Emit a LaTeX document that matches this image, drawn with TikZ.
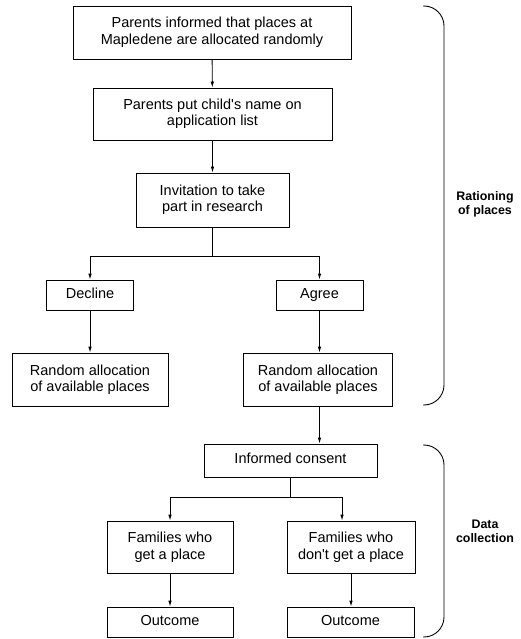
\documentclass[tikz,border=0pt]{standalone}
\usepackage{fontspec}
\setmainfont{Liberation Sans}
\usetikzlibrary{arrows.meta}

\begin{document}
\begin{tikzpicture}[x=1pt, y=-1pt, line width=0.9pt, >={Latex[length=6pt,width=3.6pt]},
		box/.style={draw, align=center, inner sep=0pt, font=\fontsize{14.5}{16.5}\selectfont},
		sidetext/.style={align=center, font=\bfseries\fontsize{12.4}{13.6}\selectfont}]
	% 画布
	\useasboundingbox (0,0) rectangle (521,639);
	
	% 配额部分
	\node[box, minimum width=278pt, minimum height=53pt] (inform) at (212,32.5) {Parents informed that places at\\Mapledene are allocated randomly};
	\node[box, minimum width=239pt, minimum height=52pt] (apply) at (212.5,114) {Parents put child\textquotesingle s name on\\application list};
	\node[box, minimum width=153pt, minimum height=54pt] (invite) at (212.5,200) {Invitation to take\\part in research};
	\node[box, minimum width=87pt, minimum height=30pt] (decline) at (90,295) {\strut Decline};
	\node[box, minimum width=87pt, minimum height=30pt] (agree) at (319.5,295) {\strut Agree};
	\node[box, minimum width=156pt, minimum height=53pt] (randA) at (90,379.5) {Random allocation\\of available places};
	\node[box, minimum width=149pt, minimum height=53pt] (randB) at (318,379.5) {Random allocation\\of available places};
	
	% 数据收集部分
	\node[box, minimum width=173pt, minimum height=33pt] (consent) at (290.5,460.5) {\strut Informed consent};
	\node[box, minimum width=126pt, minimum height=52pt] (famA) at (170,547) {Families who\\get a place};
	\node[box, minimum width=128pt, minimum height=52pt] (famB) at (351,547) {Families who\\don\textquotesingle t get a place};
	\node[box, minimum width=126pt, minimum height=30pt] (outA) at (170,622) {\strut Outcome};
	\node[box, minimum width=127pt, minimum height=30pt] (outB) at (350.5,622) {\strut Outcome};
	
	% 箭头
	\draw[->] (inform) -- (apply);
	\draw[->] (apply) -- (invite);
	\coordinate (split1) at (212.5,256);
	\draw (invite.south) -- (split1);
	\draw[->] (split1) -| (decline.north);
	\draw[->] (split1) -| (agree.north);
	\draw[->] (decline) -- (randA.north -| decline.south);
	\draw[->] (agree) -- (randB.north -| agree.south);
	\draw[->] (randB.south -| agree.south) -- (consent.north -| agree.south);
	\coordinate (split2) at (290.5,497);
	\draw (consent.south) -- (split2);
	\draw[->] (split2) -| (famA.north);
	\draw[->] (split2) -| ([xshift=-9pt]famB.north);
	\draw[->] (famA) -- (outA);
	\draw[->] (famB) -- (outB.north -| famB.south);
	
	% 右侧括号
	\draw[rounded corners=20pt] (423,6) -- (444,6) -- (444,405) -- (423,405);
	\draw[rounded corners=20pt] (423,445) -- (444,445) -- (444,637) -- (423,637);
	\node[sidetext] (ration) at (485,204) {Rationing\\of places};
	\node[sidetext] (datacol) at (485,531) {Data\\collection};
\end{tikzpicture}
\end{document}
